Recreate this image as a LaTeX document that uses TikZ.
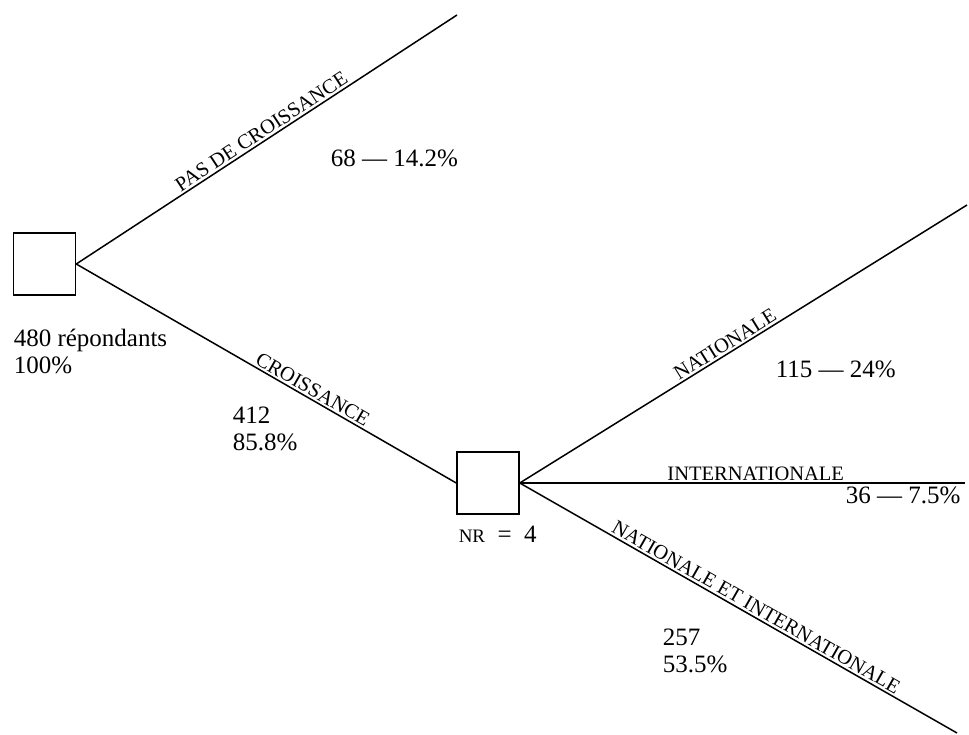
\documentclass[tikz,border=0pt]{standalone}
\usepackage{fontspec}
\setmainfont{Liberation Serif}
\tikzset{
  box/.style={draw, line width=1.5pt, minimum size=62pt, inner sep=0pt},
  lbl/.style={font=\fontsize{20.5}{20.5}\selectfont, inner sep=2pt},
  num/.style={font=\fontsize{25}{27}\selectfont, inner sep=0pt, align=left}
}
\begin{document}
\begin{tikzpicture}[x=1pt, y=-1pt, line width=1.5pt]
        \useasboundingbox (0,0) rectangle (969,735);

        \node[box] (A) at (44.5,264) {};
        \node[box] (B) at (488,483) {};

        \coordinate (P) at (457,15);
        \coordinate (N) at (967,205);
        \coordinate (I) at (965,483);
        \coordinate (E) at (957,733);

        \path (A.east) edge node[lbl, pos=0.5, sloped, above] {PAS DE CROISSANCE} (P);
        \path (A.east) edge node[lbl, pos=0.61, sloped, above] {CROISSANCE} (B.west);
        \path (B.east) edge node[lbl, pos=0.47, sloped, above] {NATIONALE} (N);
        \path (B.east) edge node[lbl, pos=0.53, above] {INTERNATIONALE} (I);
        \path (B.east) edge node[lbl, pos=0.53, sloped, above] {NATIONALE ET INTERNATIONALE} (E);

        \node[num, anchor=north west] (tA) at (13,328) {480 répondants\\100\%};
        \node[num, anchor=north west] (tC) at (232,406) {412\\85.8\%};
        \node[num, anchor=north west] (tE) at (662,628) {257\\53.5\%};
        \node[num, anchor=base west] (tP) at (330,167) {68 — 14.2\%};
        \node[num, anchor=base west] (tN) at (775,377) {115 — 24\%};
        \node[num, anchor=base west] (tI) at (845,503) {36 — 7.5\%};
        \node[num, anchor=base west] (tB) at (458,542) {{\fontsize{19}{19}\selectfont NR}\ \ =\ \ 4};
      \end{tikzpicture}
\end{document}
